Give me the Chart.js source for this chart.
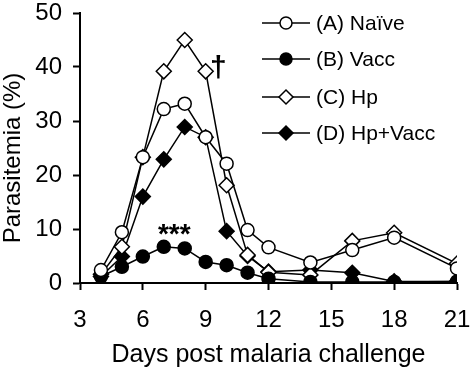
<!DOCTYPE html>
<html>
<head>
<meta charset="utf-8">
<script src="https://cdn.jsdelivr.net/npm/chart.js@4"></script>
<style>
  html, body { margin: 0; padding: 0; background: #fff; }
  #wrap { width: 470px; height: 370px; }
</style>
</head>
<body>
<div id="wrap"><canvas id="parasitemiaChart" width="470" height="370"></canvas></div>
<script>
// Days sampled after challenge
const days = [4, 5, 6, 7, 8, 9, 10, 11, 12, 14, 16, 18, 21];

// Parasitemia (%) per group
const naive   = [2.4, 9.4, 23.3, 32.2, 33.2, 27.0, 22.1, 9.8, 6.6, 3.8, 6.1, 8.4, 2.7];
const vacc    = [1.2, 3.0, 4.9, 6.7, 6.4, 3.9, 3.3, 1.9, 0.8, 0.2, 0.2, 0.2, 0.3];
const hp      = [1.6, 6.7, 23.3, 39.2, 45.0, 39.2, 18.1, 5.2, 2.0, 1.5, 7.8, 9.3, 3.6];
const hpVacc  = [1.2, 4.9, 16.0, 22.9, 28.9, 27.0, 9.6, 5.0, 2.1, 2.4, 1.9, 0.3, 0.3];

const groupLabels = ['(A) Naïve', '(B) Vacc', '(C) Hp', '(D) Hp+Vacc'];
const xTicks = [3, 6, 9, 12, 15, 18, 21];
const yTitle = 'Parasitemia (%)';

// annotations: [text, day, value]
const notes = [['***', 7.5, 9.8], ['†', 9.6, 39.6]];

const FONT = 'Liberation Sans, Arial, Helvetica, sans-serif';

function series(vals) {
    return days.map((d, i) => ({ x: d, y: vals[i] }));
}

function ds(label, vals, style, filled) {
    return {
        label: label,
        data: series(vals),
        borderColor: '#000',
        borderWidth: 1.5,
        backgroundColor: filled ? '#000' : '#fff',
        pointStyle: style,
        pointRadius: style === 'circle' ? 6.5 : 7.5,
        pointBorderWidth: 1.5,
        pointBorderColor: '#000',
        pointBackgroundColor: filled ? '#000' : '#fff',
        tension: 0
    };
}

// legend inside the plot, line + marker like the original
const insideLegend = {
    id: 'insideLegend',
    afterDatasetsDraw(chart) {
        const ctx = chart.ctx;
        const rowY = [23, 59, 97, 133];
        ctx.save();
        chart.data.datasets.forEach((d, i) => {
            const y = rowY[i];
            ctx.strokeStyle = '#000';
            ctx.lineWidth = 1.5;
            ctx.beginPath();
            ctx.moveTo(262, y);
            ctx.lineTo(310, y);
            ctx.stroke();
            ctx.fillStyle = d.pointBackgroundColor;
            ctx.strokeStyle = '#000';
            ctx.lineWidth = d.pointBorderWidth;
            Chart.helpers.drawPoint(ctx, { pointStyle: d.pointStyle, radius: d.pointRadius - 0.5, rotation: 0, borderWidth: d.pointBorderWidth }, 286, y);
            ctx.fillStyle = '#000';
            ctx.font = '21px ' + FONT;
            ctx.textBaseline = 'middle';
            ctx.textAlign = 'left';
            ctx.fillText(d.label, 316, y + 1);
        });
        // significance marks
        const xs = chart.scales.x, ys = chart.scales.y;
        ctx.textAlign = 'center';
        ctx.textBaseline = 'middle';
        notes.forEach(n => {
            ctx.font = 'bold ' + (n[0] === '†' ? 30 : 28) + 'px ' + FONT;
            ctx.fillText(n[0], xs.getPixelForValue(n[1]), ys.getPixelForValue(n[2]) + (n[0] === '***' ? 5 : 0));
        });
        // y title, a little below the plot centre as in the original
        ctx.translate(13, 158);
        ctx.rotate(-Math.PI / 2);
        ctx.font = '24px ' + FONT;
        ctx.fillText(yTitle, 0, 0);
        ctx.restore();
    }
};

new Chart(document.getElementById('parasitemiaChart'), {
    type: 'line',
    data: {
        datasets: [
            ds(groupLabels[0], naive, 'circle', false),
            ds(groupLabels[1], vacc, 'circle', true),
            ds(groupLabels[2], hp, 'rectRot', false),
            ds(groupLabels[3], hpVacc, 'rectRot', true)
        ]
    },
    options: {
        responsive: false,
        animation: false,
        layout: { padding: { top: 13, right: 13, left: 0, bottom: 0 } },
        plugins: { legend: { display: false }, tooltip: { enabled: false } },
        scales: {
            x: {
                type: 'linear',
                min: 3,
                max: 21,
                afterBuildTicks: s => { s.ticks = xTicks.map(v => ({ value: v })); },
                afterFit: s => { s.height = 87; s.paddingLeft = 0; s.paddingRight = 0; },
                grid: { drawOnChartArea: false, drawTicks: true, tickLength: 7, tickWidth: 2, color: '#000' },
                border: { display: true, color: '#000', width: 2 },
                ticks: { color: '#000', font: { family: FONT, size: 24 }, padding: 16, maxRotation: 0 },
                title: { display: true, text: 'Days post malaria challenge', color: '#000', font: { family: FONT, size: 25 }, padding: { top: 0, bottom: 0 } }
            },
            y: {
                min: 0,
                max: 50,
                afterFit: s => { s.width = 80; s.paddingTop = 0; s.paddingBottom = 0; },
                grid: { drawOnChartArea: false, drawTicks: true, tickLength: 7, tickWidth: 2, color: '#000' },
                border: { display: true, color: '#000', width: 2 },
                ticks: { stepSize: 10, color: '#000', font: { family: FONT, size: 24 }, padding: 11 },
                title: { display: false }
            }
        }
    },
    plugins: [insideLegend]
});
</script>
</body>
</html>
